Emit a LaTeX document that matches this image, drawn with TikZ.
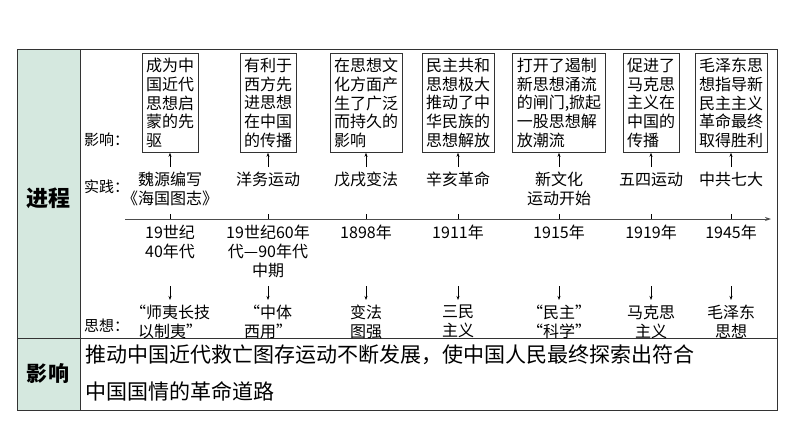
\documentclass[tikz,border=0pt]{standalone}
\usepackage{fontspec}
\setmainfont{Noto Sans CJK SC}
\usetikzlibrary{arrows.meta}
\definecolor{hdr}{HTML}{D5E8DF}
\begin{document}
\begin{tikzpicture}[x=1pt,y=-1pt,
  box/.style={draw=black!80,line width=0.8pt,inner xsep=4pt,inner ysep=1pt,font=\fontsize{16}{18.8}\selectfont,align=left,anchor=north},
  txt/.style={font=\fontsize{16}{19}\selectfont,align=center,inner sep=0pt},
  lab/.style={font=\fontsize{15}{17}\selectfont,inner sep=0pt,anchor=west},
  arr/.style={-{Stealth[length=4pt,width=3pt]},line width=0.6pt}]
\useasboundingbox (0,0) rectangle (794,447);
\fill[hdr] (17,49) rectangle (80,410);
\draw[line width=1pt,black!80] (17,49) rectangle (777,410);
\draw[line width=1pt,black!80] (80,49) -- (80,410);
\draw[line width=1pt,black!80] (17,338) -- (777,338);
\node[font=\fontsize{22}{24}\bfseries\selectfont] (jc) at (48,198) {进程};
\node[font=\fontsize{21}{24}\bfseries\selectfont] (yx) at (48,374) {影响};
\node[font=\fontsize{21}{37}\selectfont,anchor=north west,align=left,inner sep=0pt] (sum) at (85,345) {推动中国近代救亡图存运动不断发展，使中国人民最终探索出符合\\中国国情的革命道路};
\node[lab] (l1) at (84,140) {影响：};
\node[lab] (l2) at (84,187) {实践：};
\node[lab] (l3) at (84,326) {思想：};
\coordinate (ts) at (125,219);
\coordinate (te) at (771,219);
\draw[-{Stealth[length=6pt,width=4pt]},line width=1pt,black!70] (ts) -- (te);
\foreach \n/\x/\bt/\pr/\dt/\th in {
 a/170/{成为中\\国近代\\思想启\\蒙的先\\驱}/{魏源编写\\《海国图志》}/{19世纪\\40年代}/{“师夷长技\\以制夷”},
 b/268/{有利于\\西方先\\进思想\\在中国\\的传播}/{洋务运动}/{19世纪60年\\代—90年代\\中期}/{“中体\\西用”},
 c/366/{在思想文\\化方面产\\生了广泛\\而持久的\\影响}/{戊戌变法}/{1898年}/{变法\\图强},
 d/458/{民主共和\\思想极大\\推动了中\\华民族的\\思想解放}/{辛亥革命}/{1911年}/{三民\\主义},
 e/559/{打开了遏制\\新思想涌流\\的闸门,掀起\\一股思想解\\放潮流}/{新文化\\运动开始}/{1915年}/{“民主”\\“科学”},
 f/651/{促进了\\马克思\\主义在\\中国的\\传播}/{五四运动}/{1919年}/{马克思\\主义},
 g/731/{毛泽东思\\想指导新\\民主主义\\革命最终\\取得胜利}/{中共七大}/{1945年}/{毛泽东\\思想}}{
  \node[box,minimum height=99pt] (b\n) at (\x,53) {\bt};
  \node[txt,anchor=north] (p\n) at (\x,172) {\pr};
  \node[txt,anchor=north] (d\n) at (\x,225) {\dt};
  \node[txt,anchor=north] (t\n) at (\x,305) {\th};
  \coordinate (k\n) at (\x,219);
  \coordinate (ka\n) at (\x,214);
  \coordinate (u\n) at (\x,167);
  \coordinate (s\n) at (\x,286);
  \coordinate (e\n) at (\x,300);
  \draw[line width=0.6pt] (ka\n) -- (k\n);
  \draw[arr] (u\n) -- (b\n.south);
  \draw[arr] (s\n) -- (e\n);
}
\end{tikzpicture}
\end{document}
